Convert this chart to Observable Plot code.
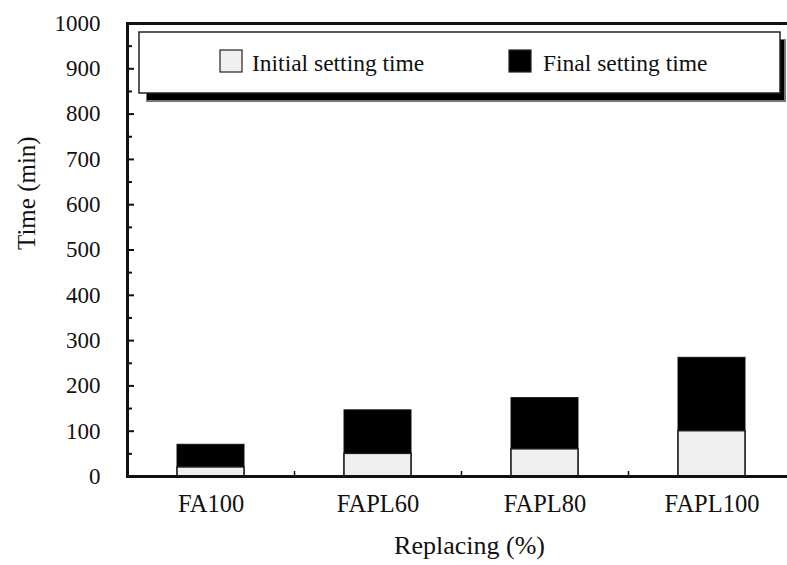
<!DOCTYPE html>
<html><head><meta charset="utf-8">
<script src="https://cdn.jsdelivr.net/npm/d3@7"></script>
<script src="https://cdn.jsdelivr.net/npm/@observablehq/plot@0.6"></script>
<style>
body{margin:0;background:#fff}
svg{font-family:"Liberation Serif","Times New Roman",serif}
</style>
</head><body><div id="chart"></div>
<script>
const categories = ["FA100", "FAPL60", "FAPL80", "FAPL100"];
const initialTime = [20, 50, 60, 100];
const finalTime = [70, 146, 173, 262];
const yMajorTicks = [0, 100, 200, 300, 400, 500, 600, 700, 800, 900, 1000];
const yMinorTicks = [50, 150, 250, 350, 450, 550, 650, 750, 850, 950];
const seriesNames = ["Initial setting time", "Final setting time"];
const xTitle = "Replacing (%)";
const yTitle = "Time (min)";

const rows = categories.map((c, i) => ({category: c, initial: initialTime[i], final: finalTime[i]}));

const W = 787, H = 565, mL = 127, mT = 23, mB = 89;
const frameW = W - mL, frameH = H - mT - mB;
const step = 167;
const font = '"Liberation Serif","Times New Roman",serif';

const plot = Plot.plot({
  width: W, height: H,
  marginLeft: mL, marginRight: 0, marginTop: mT, marginBottom: mB,
  style: {fontFamily: font, fontSize: "24px", color: "#111", background: "#fff", overflow: "visible"},
  x: {type: "band", domain: categories, range: [mL, mL + 4 * step], paddingInner: 0.6, paddingOuter: 0.3},
  y: {domain: [0, 1000], range: [H - mB, mT]},
  marks: [
    Plot.barY(rows, {x: "category", y: "final", fill: "#000", stroke: "#111", strokeWidth: 1}),
    Plot.barY(rows, {x: "category", y: "initial", fill: "#f0f0f0", stroke: "#1a1a1a", strokeWidth: 1.5}),
    Plot.axisY({ticks: yMajorTicks, tickFormat: d => String(d), tickSize: 0, tickPadding: 27, fontSize: 23, label: null}),
    Plot.axisX({tickSize: 0, tickPadding: 18, fontSize: 24.5, label: null}),
    Plot.tickY(yMajorTicks, {y: d => d, insetRight: frameW - 7, strokeWidth: 2}),
    Plot.tickY(yMinorTicks, {y: d => d, insetRight: frameW - 5, strokeWidth: 2}),
    Plot.tickX(categories.slice(0, 3), {x: d => d, dx: step / 2, insetTop: frameH - 5, strokeWidth: 1.5}),
    Plot.ruleY([0, 1000], {strokeWidth: 3}),
    Plot.frame({anchor: "left", strokeWidth: 3}),
    Plot.text([yTitle], {frameAnchor: "left", rotate: -90, dx: -101, fontSize: 25, fill: "#111"}),
    Plot.text([xTitle], {frameAnchor: "bottom", dx: 12, dy: 77, fontSize: 26, fill: "#111"})
  ]
});

// Legend box drawn inside the plot area
const svg = d3.select(plot);
const lg = svg.append("g").attr("font-family", font).attr("font-size", 23.5).attr("text-anchor", "start");
lg.append("rect").attr("x", 146).attr("y", 39).attr("width", 640).attr("height", 63).attr("fill", "#777");
lg.append("rect").attr("x", 147).attr("y", 40).attr("width", 637).attr("height", 60).attr("fill", "#000");
lg.append("rect").attr("x", 139).attr("y", 32).attr("width", 641).attr("height", 61)
  .attr("fill", "#fff").attr("stroke", "#222").attr("stroke-width", 1.5);
const swatchX = [220, 509], textX = [252, 543], fills = ["#f0f0f0", "#000"];
seriesNames.forEach((name, i) => {
  lg.append("rect").attr("x", swatchX[i]).attr("y", 50).attr("width", 22).attr("height", 22)
    .attr("fill", fills[i]).attr("stroke", "#222").attr("stroke-width", 1.2);
  lg.append("text").attr("x", textX[i]).attr("y", 71).attr("fill", "#111").text(name);
});

document.getElementById("chart").appendChild(plot);
</script>
</body></html>
